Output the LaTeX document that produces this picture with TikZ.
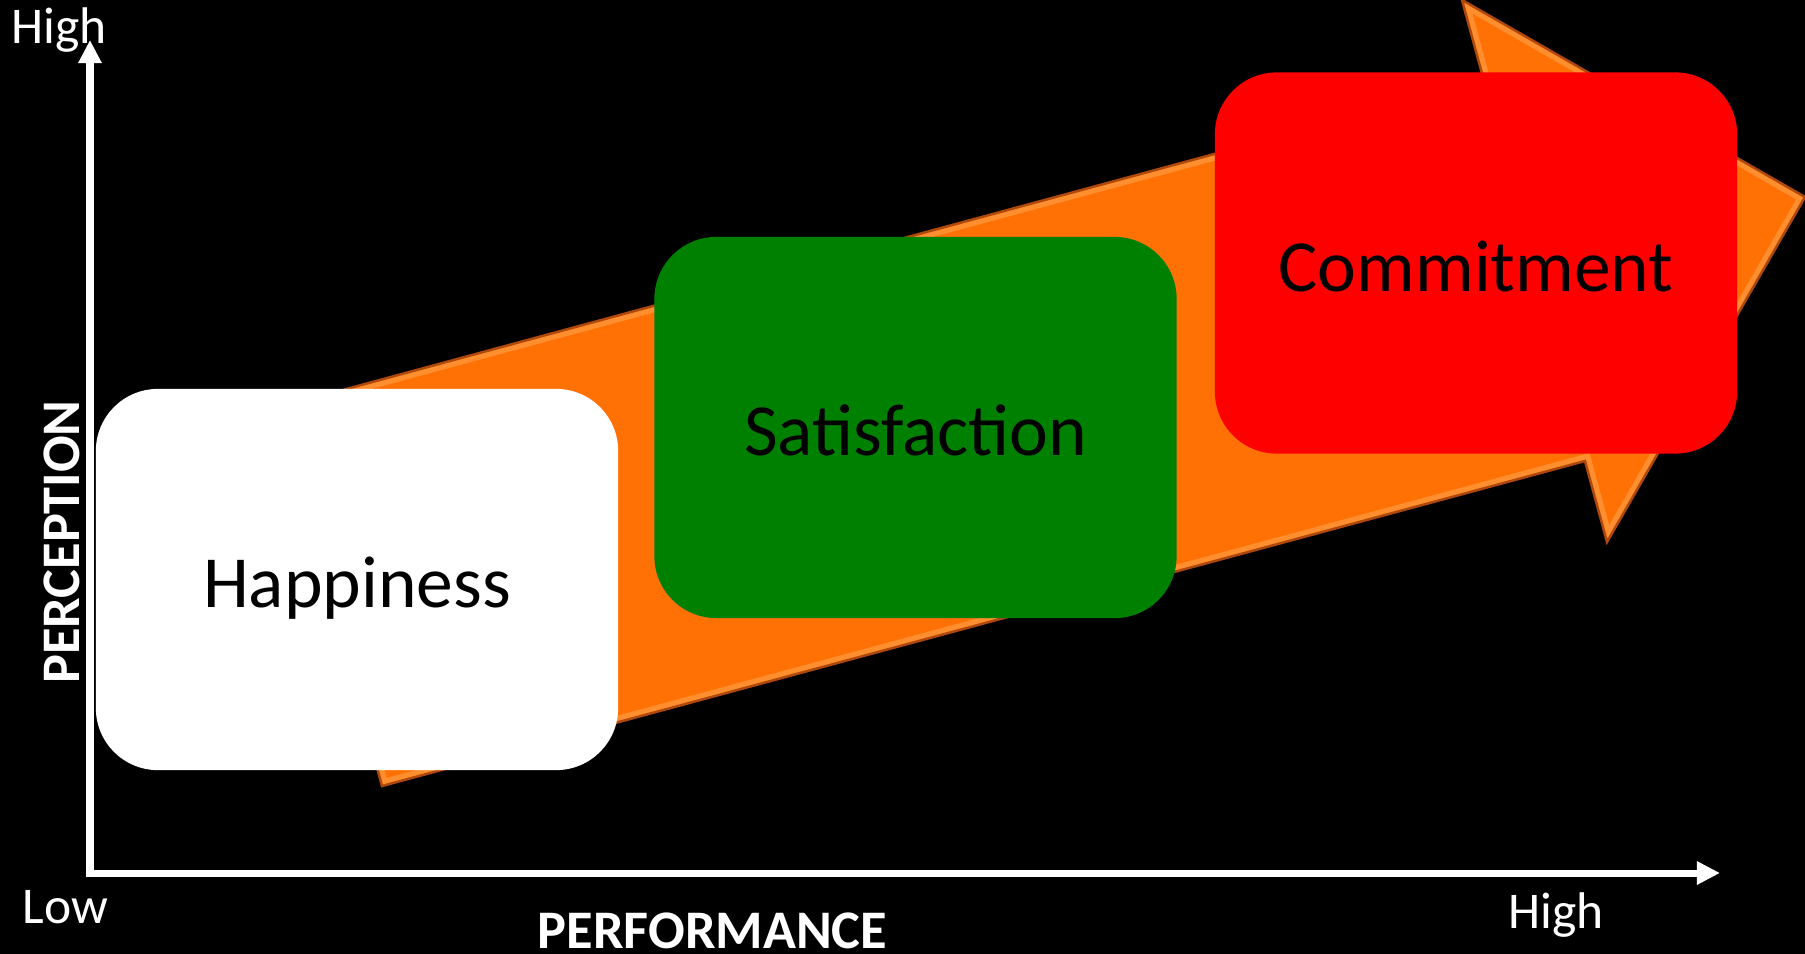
\documentclass[tikz,border=0pt]{standalone}
\usepackage{fontspec}
\setmainfont{Carlito}
\usetikzlibrary{arrows.meta}
\definecolor{arrowor}{RGB}{255,112,5}
\definecolor{arrowdk}{RGB}{175,72,10}
\definecolor{arrowlt}{RGB}{255,170,80}
\definecolor{boxgreen}{RGB}{0,128,0}
\definecolor{boxred}{RGB}{255,0,0}
\begin{document}
\begin{tikzpicture}[x=0.01cm,y=-0.01cm,
  card/.style={rounded corners=6.2mm, minimum width=5.22cm, minimum height=3.81cm,
    inner sep=0pt, text height=5.6mm, text depth=0pt, text=black,
    font=\fontsize{20.9pt}{25pt}\selectfont},
  axislabel/.style={text=white, inner sep=0pt, font=\fontsize{14.65pt}{17pt}\selectfont},
  axistitle/.style={text=white, inner sep=0pt, font=\bfseries\fontsize{15.45pt}{18pt}\selectfont},
  axisline/.style={white, line width=0.7mm, line join=miter,
    {Triangle[length=2.3mm,width=2.2mm]}-{Triangle[length=2.3mm,width=2.2mm]}}]

\fill[black] (0,0) rectangle (1805,954);
\useasboundingbox (0,0) rectangle (1805,954);

% big orange arrow
\coordinate (tailb) at (382,786);
\coordinate (shaftb) at (1585,461);
\coordinate (barbb) at (1607,542);
\coordinate (tip) at (1805,197);
\coordinate (barbt) at (1462,0);
\coordinate (shaftt) at (1484,81);
\coordinate (tailt) at (280,407);
\begin{scope}
  \clip (tailb) -- (shaftb) -- (barbb) -- (tip) -- (barbt) -- (shaftt) -- (tailt) -- cycle;
  \fill[arrowor] (tailb) -- (shaftb) -- (barbb) -- (tip) -- (barbt) -- (shaftt) -- (tailt) -- cycle;
  \draw[arrowlt, line width=1.3mm, opacity=0.55, line join=miter]
    (tailb) -- (shaftb) -- (barbb) -- (tip) -- (barbt) -- (shaftt) -- (tailt) -- cycle;
\end{scope}
\draw[arrowdk, line width=0.25mm, line join=miter]
  (tailb) -- (shaftb) -- (barbb) -- (tip) -- (barbt) -- (shaftt) -- (tailt) -- cycle;

% stage boxes
\node[card, fill=white] (happy) at (357,579.5) {Happiness};
\node[card, fill=boxgreen] (satis) at (915.5,427.5) {Satisfaction};
\node[card, fill=boxred] (commit) at (1476,263) {Commitment};

% axes
\coordinate (ytip) at (90,40);
\coordinate (origin) at (90,873);
\coordinate (xtip) at (1720,873);
\draw[axisline] (ytip) -- (origin) -- (xtip);

% axis labels
\node[axislabel, anchor=base west] (yhigh) at (11,43) {High};
\node[axislabel, anchor=base west] (xlow) at (22,923) {Low};
\node[axislabel, anchor=base west] (xhigh) at (1508,928) {High};
\node[axistitle, anchor=base] (xtitle) at (712.5,948) {PERFORMANCE};
\node[axistitle, anchor=base, rotate=90] (ytitle) at (80,542) {PERCEPTION};
\end{tikzpicture}
\end{document}
